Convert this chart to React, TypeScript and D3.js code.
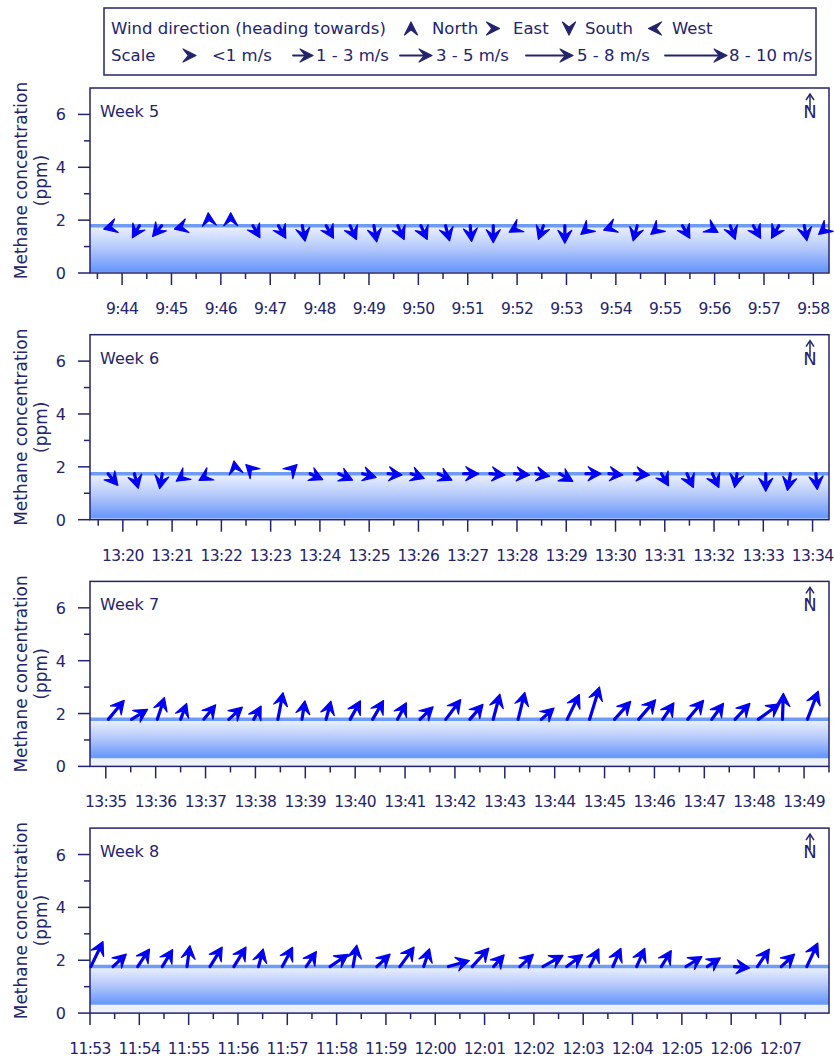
import React from "react";
import * as d3 from "d3";

// ---------- DATA ----------
const weekLabels = ["Week 5", "Week 6", "Week 7", "Week 8"];
const panelStart = ["9:43:21", "13:19:20", "13:34:41", "11:53:00"];
const panelEnd = ["9:58:19", "13:34:20", "13:49:30", "12:07:59"];
const methaneLevel = [1.79, 1.74, 1.78, 1.76];
const methaneLow = [0.07, 0.08, 0.35, 0.35];
const yTicks = [0, 2, 4, 6];
const yMinorTicks = [1, 3, 5];

const week5Times = ["9:43:53","9:44:21","9:44:48","9:45:19","9:45:46","9:46:12","9:46:39","9:47:10","9:47:39","9:48:08","9:48:37","9:49:06","9:49:35","9:50:03","9:50:33","9:51:03","9:51:31","9:52:04","9:52:32","9:52:58","9:53:30","9:54:00","9:54:26","9:54:55","9:55:21","9:55:50","9:56:19","9:56:47","9:57:18","9:57:49","9:58:19"];
const week5Dir = [255,210,220,255,355,0,150,150,170,150,155,170,155,155,165,175,180,240,200,180,230,250,195,230,150,120,160,150,210,170,230];
const week5Speed = [0.5,1.0,1.0,0.5,0.5,0.5,1.0,1.1,1.3,1.1,1.2,1.4,1.2,1.2,1.3,1.3,1.5,0.6,1.1,1.6,0.9,0.6,1.3,0.9,1.1,0.9,1.1,1.1,1.1,1.2,0.9];

const week6Times = ["13:19:42","13:20:14","13:20:48","13:21:18","13:21:47","13:22:18","13:22:41","13:23:21","13:23:48","13:24:23","13:24:52","13:25:23","13:25:51","13:26:24","13:26:55","13:27:27","13:27:57","13:28:23","13:28:52","13:29:24","13:29:52","13:30:23","13:30:56","13:31:27","13:31:58","13:32:28","13:33:03","13:33:33","13:34:04"];
const week6Dir = [140,165,190,235,240,350,315,45,115,115,105,95,110,115,90,95,95,100,120,90,95,95,150,155,155,190,180,190,175];
const week6Speed = [1.2,1.2,1.2,0.8,0.9,0.5,0.5,0.5,1.0,1.2,1.0,1.0,1.0,1.2,1.2,1.2,1.2,1.0,1.2,1.2,1.0,1.2,1.0,1.2,1.2,1.0,1.6,1.5,1.3];

const week7Times = ["13:35:03","13:35:31","13:36:02","13:36:30","13:36:58","13:37:28","13:37:58","13:38:27","13:38:56","13:39:25","13:39:54","13:40:21","13:40:51","13:41:18","13:41:49","13:42:18","13:42:46","13:43:16","13:43:44","13:44:15","13:44:42","13:45:12","13:45:41","13:46:10","13:46:40","13:47:09","13:47:37","13:48:05","13:48:34","13:49:04"];
const week7Dir = [40,58,18,21,39,48,29,11,9,15,29,30,28,46,37,41,15,14,48,26,17,42,41,34,40,36,43,54,2,21];
const week7Speed = [2.8,1.8,2.5,1.5,1.8,1.7,1.2,3.2,1.8,1.8,2.2,2.3,1.8,1.7,2.8,2.0,3.0,3.3,1.5,3.3,4.3,2.7,3.0,2.0,2.8,2.0,2.3,3.1,3.0,3.7];

const week8Times = ["11:53:01","11:53:28","11:53:58","11:54:28","11:54:58","11:55:26","11:55:55","11:56:25","11:56:54","11:57:23","11:57:52","11:58:20","11:58:49","11:59:17","11:59:46","12:00:16","12:00:45","12:01:11","12:01:43","12:02:11","12:02:40","12:03:08","12:03:36","12:04:05","12:04:35","12:05:05","12:05:31","12:06:04","12:06:32","12:07:01","12:07:32"];
const week8Dir = [26,47,34,31,8,32,32,15,28,34,56,10,47,36,18,74,42,42,48,61,53,27,24,24,32,58,56,95,34,47,25];
const week8Speed = [3.3,1.7,2.2,2.0,2.2,2.5,2.5,1.7,2.3,1.7,2.3,2.3,1.7,2.7,1.8,2.3,2.8,1.3,1.7,2.5,2.0,2.0,2.0,2.0,1.8,1.8,1.3,1.2,2.2,1.7,3.0];

const directionNames = ["North", "East", "South", "West"];
const directionAngles = [0, 90, 180, 270];
const scaleLabels = ["<1 m/s", "1 - 3 m/s", "3 - 5 m/s", "5 - 8 m/s", "8 - 10 m/s"];
const scaleSpeeds = [0.5, 2, 4, 6.5, 9];

// ---------- STYLE / LAYOUT ----------
const NAVY = "#24246e";
const BLUE = "#0000f2";
const FONT = "'DejaVu Sans', sans-serif";
const PLOT_LEFT = 90;
const PLOT_RIGHT = 829;
const PANEL_TOP0 = 88;
const PANEL_STEP = 246.7;
const PANEL_H = 185;

const parse = d3.timeParse("%H:%M:%S");
const fmt = d3.timeFormat("%-H:%M");
const lengthScale = d3.scaleLinear().domain([0, 10]).range([8, 68]);

function Arrow({ x, y, dir, len, color, shaftW, h, hw }) {
  const a = (dir * Math.PI) / 180;
  const ux = Math.sin(a), uy = -Math.cos(a);
  const px = -uy, py = ux;
  const L = Math.max(len, h);
  const tx = x + ux * L, ty = y + uy * L;
  const bx = tx - ux * h, by = ty - uy * h;
  const nx = tx - ux * h * 0.6, ny = ty - uy * h * 0.6;
  const head = `M${tx},${ty}L${bx + px * hw},${by + py * hw}L${nx},${ny}L${bx - px * hw},${by - py * hw}Z`;
  const shaft = L > h + 0.5;
  return (
    <g>
      {shaft && (
        <line x1={x} y1={y} x2={nx} y2={ny} stroke={color} strokeWidth={shaftW} strokeLinecap="round" />
      )}
      <path d={head} fill={color} stroke={color} strokeWidth={1.2} strokeLinejoin="round" />
    </g>
  );
}

function Panel({ idx, week, start, end, level, low, times, dirs, speeds }) {
  const top = PANEL_TOP0 + idx * PANEL_STEP;
  const bottom = top + PANEL_H;
  const x = d3.scaleTime().domain([parse(start), parse(end)]).range([PLOT_LEFT, PLOT_RIGHT]);
  const y = d3.scaleLinear().domain([0, 7]).range([bottom, top]);
  const major = x.ticks(d3.timeMinute.every(1));
  const minor = x.ticks(d3.timeSecond.every(30)).filter((d) => d.getSeconds() === 30);
  const gid = `band${idx}`;
  const yc = (top + bottom) / 2;
  const nx = PLOT_RIGHT - 19;
  return (
    <g>
      <defs>
        <linearGradient id={gid} x1="0" y1="0" x2="0" y2="1">
          <stop offset="0" stopColor="#eef2ff" />
          <stop offset="0.5" stopColor="#b3c8fb" />
          <stop offset="1" stopColor="#6797fb" />
        </linearGradient>
      </defs>
      <rect x={PLOT_LEFT} y={y(low)} width={PLOT_RIGHT - PLOT_LEFT} height={y(0) - y(low)} fill="#eef0fb" />
      <rect x={PLOT_LEFT} y={y(level)} width={PLOT_RIGHT - PLOT_LEFT} height={y(low) - y(level)} fill={`url(#${gid})`} />
      <line x1={PLOT_LEFT} x2={PLOT_RIGHT} y1={y(low)} y2={y(low)} stroke="#6a9bff" strokeWidth={2} />
      <line x1={PLOT_LEFT} x2={PLOT_RIGHT} y1={y(level)} y2={y(level)} stroke="#6e9cf4" strokeWidth={3.5} />
      <rect x={PLOT_LEFT} y={top} width={PLOT_RIGHT - PLOT_LEFT} height={PANEL_H} fill="none" stroke={NAVY} strokeWidth={1.5} />
      {yTicks.map((t) => (
        <g key={"y" + t}>
          <line x1={PLOT_LEFT - 12} x2={PLOT_LEFT} y1={y(t)} y2={y(t)} stroke={NAVY} strokeWidth={1.5} />
          <text x={66} y={y(t) + 6} textAnchor="end" fontSize={16} fill={NAVY}>{t}</text>
        </g>
      ))}
      {yMinorTicks.map((t) => (
        <line key={"ym" + t} x1={PLOT_LEFT - 6} x2={PLOT_LEFT} y1={y(t)} y2={y(t)} stroke={NAVY} strokeWidth={1.5} />
      ))}
      {major.map((d, i) => (
        <g key={"x" + i}>
          <line x1={x(d)} x2={x(d)} y1={bottom} y2={bottom + 12} stroke={NAVY} strokeWidth={1.5} />
          <text x={x(d)} y={bottom + 41} textAnchor="middle" fontSize={15.5} letterSpacing={-0.6} fill={NAVY}>{fmt(d)}</text>
        </g>
      ))}
      {minor.map((d, i) => (
        <line key={"xm" + i} x1={x(d)} x2={x(d)} y1={bottom} y2={bottom + 6} stroke={NAVY} strokeWidth={1.5} />
      ))}
      <g transform={`translate(27,${yc}) rotate(-90)`}>
        <text textAnchor="middle" fontSize={17} fill={NAVY}>Methane concentration</text>
      </g>
      <g transform={`translate(47,${yc}) rotate(-90)`}>
        <text textAnchor="middle" fontSize={17} fill={NAVY}>(ppm)</text>
      </g>
      <text x={PLOT_LEFT + 10} y={top + 29} fontSize={16} fill={NAVY}>{week}</text>
      <g>
        <text x={nx} y={top + 30} textAnchor="middle" fontSize={18} fill={NAVY}>N</text>
        <line x1={nx} x2={nx} y1={top + 22} y2={top + 6.5} stroke={NAVY} strokeWidth={1.5} />
        <path d={`M${nx - 4},${top + 12}L${nx},${top + 6}L${nx + 4},${top + 12}`} fill="none" stroke={NAVY} strokeWidth={1.5} />
      </g>
      {times.map((t, i) => (
        <Arrow key={"a" + i} x={x(parse(t))} y={y(level)} dir={dirs[i]} len={lengthScale(speeds[i])} color={BLUE} shaftW={3.2} h={13} hw={7} />
      ))}
    </g>
  );
}

function Legend() {
  const dirX = [411, 493, 569, 655];
  const dirTextX = [432, 513, 585, 672];
  const tailX = [183, 293, 400, 526, 665];
  const labelX = [212, 316, 436, 577, 729];
  return (
    <g>
      <rect x={104} y={8} width={712} height={67} fill="#fff" stroke={NAVY} strokeWidth={1.5} />
      <text x={111} y={34} fontSize={16.5} fill={NAVY}>Wind direction (heading towards)</text>
      {directionNames.map((n, i) => {
        const a = (directionAngles[i] * Math.PI) / 180;
        const ux = Math.sin(a), uy = -Math.cos(a);
        return (
          <g key={n}>
            <Arrow x={dirX[i] - ux * 6.5} y={28.5 - uy * 6.5} dir={directionAngles[i]} len={13} color={NAVY} shaftW={2} h={13} hw={6.5} />
            <text x={dirTextX[i]} y={34} fontSize={16.5} fill={NAVY}>{n}</text>
          </g>
        );
      })}
      <text x={111} y={61} fontSize={16.5} fill={NAVY}>Scale</text>
      {scaleLabels.map((s, i) => {
        const L = Math.max(lengthScale(scaleSpeeds[i]), 13);
        return (
          <g key={s}>
            <Arrow x={tailX[i]} y={55.5} dir={90} len={L} color={NAVY} shaftW={1.8} h={13} hw={6.5} />
            <text x={labelX[i]} y={61} fontSize={16.5} fill={NAVY}>{s}</text>
          </g>
        );
      })}
    </g>
  );
}

export default function App() {
  const panels = [
    { times: week5Times, dirs: week5Dir, speeds: week5Speed },
    { times: week6Times, dirs: week6Dir, speeds: week6Speed },
    { times: week7Times, dirs: week7Dir, speeds: week7Speed },
    { times: week8Times, dirs: week8Dir, speeds: week8Speed },
  ];
  return (
    <svg width={834} height={1060} style={{ position: "absolute", left: 0, top: 0, background: "#fff" }} fontFamily={FONT}>
      <rect width={834} height={1060} fill="#fff" />
      <Legend />
      {panels.map((p, i) => (
        <Panel key={i} idx={i} week={weekLabels[i]} start={panelStart[i]} end={panelEnd[i]} level={methaneLevel[i]} low={methaneLow[i]} times={p.times} dirs={p.dirs} speeds={p.speeds} />
      ))}
    </svg>
  );
}
